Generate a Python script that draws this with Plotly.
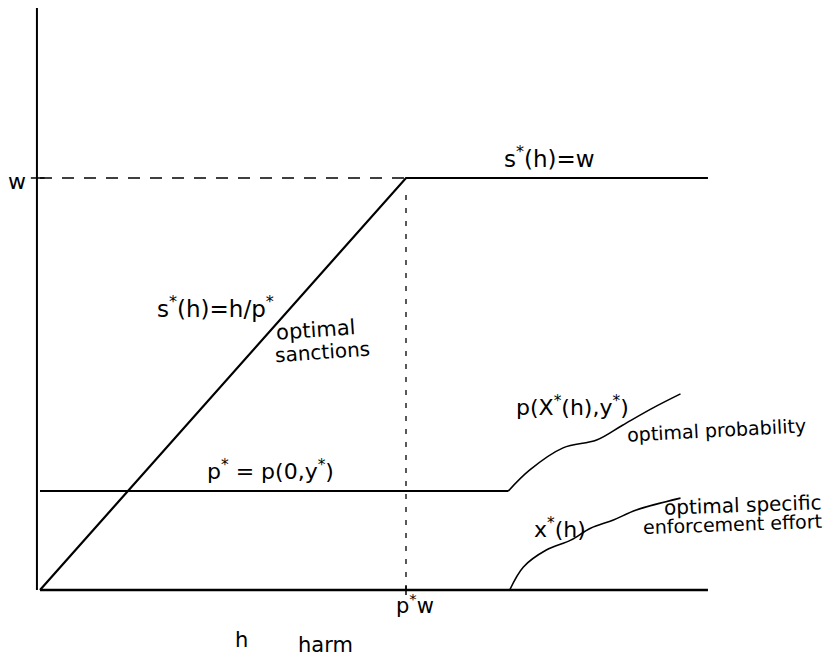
import plotly.graph_objects as go

# conceptual diagram: optimal sanctions / probability / effort against harm h
W = 1.0          # maximal sanction (wealth)
P_STAR = 0.24    # p* = p(0, y*)
H_MAX = 0.438    # right end of the drawn axis
H_TOP = 1.45     # top of the vertical axis

# optimal probability p(x*(h), y*) beyond the flat p* part
prob_h = [0.307, 0.321, 0.343, 0.365, 0.382, 0.402, 0.420]
prob_v = [0.240, 0.291, 0.345, 0.364, 0.400, 0.442, 0.476]

# optimal specific enforcement effort x*(h)
effort_h = [0.308, 0.317, 0.332, 0.348, 0.361, 0.376, 0.391, 0.420]
effort_v = [0.0, 0.056, 0.097, 0.121, 0.150, 0.170, 0.194, 0.223]

H_KINK = P_STAR * W

FIG_W, FIG_H = 824, 652   # page body keeps an 8px margin


def make_layout():
    layout = go.Layout(
        autosize=False,
        width=FIG_W,
        height=FIG_H,
        showlegend=False,
        plot_bgcolor='white',
        paper_bgcolor='white',
        xaxis=go.layout.XAxis(range=[-0.02098, 0.51934], visible=False, fixedrange=True),
        yaxis=go.layout.YAxis(range=[-0.1699, 1.4126], visible=False, fixedrange=True),
        margin=go.layout.Margin(l=0, r=0, b=0, t=0, pad=0),
        font=dict(family='DejaVu Sans', size=18, color='black'))
    return layout


def line(x, y, width=2, dash='solid', shape='linear'):
    return go.Scatter(x=x, y=y, mode='lines', hoverinfo='skip',
                      line=dict(color='black', width=width, dash=dash, shape=shape))


fig = go.Figure(layout=make_layout())

# axes
fig.add_trace(line([-0.002, -0.002], [0, H_TOP], width=2))
fig.add_trace(line([0, H_MAX], [0, 0], width=2.5))
# ticks for w and p*w
fig.add_trace(line([-0.006, 0.003], [W, W], width=1.5))
fig.add_trace(line([H_KINK, H_KINK], [-0.012, 0.01], width=1.5))

# guides
fig.add_trace(line([0, H_KINK], [W, W], width=1.5, dash='12px,10px'))
fig.add_trace(line([H_KINK, H_KINK], [0, 0.97], width=1.3, dash='5px,8px'))

# s*(h)
fig.add_trace(line([0, H_KINK, H_MAX], [0, W, W], width=2.2))
# p*
fig.add_trace(line([0, prob_h[0]], [P_STAR, P_STAR], width=2))
fig.add_trace(line(prob_h, prob_v, width=1.6, shape='spline'))
fig.add_trace(line(effort_h, effort_v, width=1.6, shape='spline'))

labels = [
    (17, 181, 'w', 22, 0),
    (549, 157, 's<sup>*</sup>(h)=w', 23, 0),
    (215, 307, 's<sup>*</sup>(h)=h/p<sup>*</sup>', 23, 0),
    (315, 330, 'optimal', 21, -4),
    (322, 352, 'sanctions', 20, -4),
    (270, 470, 'p<sup>*</sup> = p(0,y<sup>*</sup>)', 22, 0),
    (572, 406, 'p(X<sup>*</sup>(h),y<sup>*</sup>)', 22, 0),
    (716, 430, 'optimal probability', 19, -3),
    (560, 528, 'x<sup>*</sup>(h)', 22, 0),
    (743, 505, 'optimal specific', 20, -2),
    (732, 524, 'enforcement effort', 19, -2),
    (415, 604, 'p<sup>*</sup>w', 21, 0),
    (241, 640, 'h', 21, 0),
    (325, 645, 'harm', 21, 0),
]
for px_, py_, txt, sz, ang in labels:
    fig.add_annotation(x=(px_ - 8) / FIG_W, y=1 - (py_ - 8) / FIG_H,
                       xref='paper', yref='paper',
                       text=txt, showarrow=False, font=dict(size=sz),
                       textangle=ang, xanchor='center', yanchor='middle')

fig.write_html("out.html")
